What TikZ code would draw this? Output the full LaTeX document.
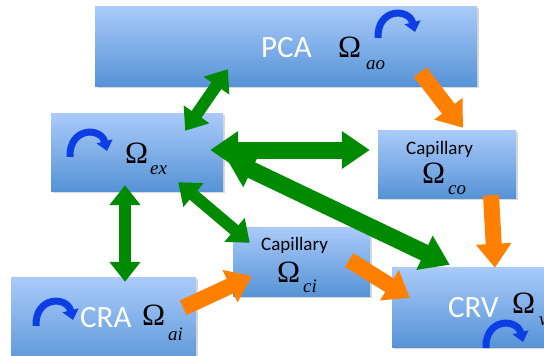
\documentclass[tikz,border=0pt]{standalone}
\usepackage{fontspec}
\setmainfont{Liberation Serif}
\newfontfamily\calib{Carlito}
\usetikzlibrary{arrows.meta,calc,shadows}
\definecolor{boxtop}{RGB}{170,203,250}
\definecolor{boxbot}{RGB}{86,147,214}
\definecolor{grn}{RGB}{0,138,0}
\definecolor{org}{RGB}{255,127,0}
\definecolor{rotblue}{RGB}{12,62,228}
\begin{document}
\begin{tikzpicture}[x=1pt,y=-1pt,
  box/.style={rectangle, inner sep=0pt, top color=boxtop, bottom color=boxbot, draw=none,
    drop shadow={shadow xshift=1.5pt, shadow yshift=-1.5pt, opacity=0.3}},
  lbl/.style={inner sep=0pt, anchor=base west, text=white, font=\calib\fontsize{31}{31}\selectfont},
  captxt/.style={inner sep=0pt, anchor=base west, font=\calib\fontsize{19}{19}\selectfont},
  om/.style={inner sep=0pt, anchor=base west, font=\fontsize{31}{31}\selectfont},
  subtxt/.style={inner sep=0pt, anchor=base west, font=\itshape\fontsize{19}{19}\selectfont},
  bigdbl/.style={draw=grn, line width=17pt, {Triangle[width=36pt,length=28pt]}-{Triangle[width=36pt,length=28pt]}},
  smalldbl/.style={draw=grn, line width=12pt, {Triangle[width=30pt,length=20pt]}-{Triangle[width=30pt,length=20pt]}},
  orng/.style={draw=org, line width=16pt, -{Triangle[width=34pt,length=24pt]}},
  rot/.pic={\draw[rotblue, line width=7pt, -{Triangle[width=16pt,length=10pt]}]
     (-19,0) .. controls (-20,-30) and (12,-30) .. (18,-6);}
]
\useasboundingbox (0,0) rectangle (544,356);
\clip (0,0) rectangle (544,356);

% boxes
\node[box, minimum width=382pt, minimum height=80pt] (pca) at (286,46) {};
\node[box, minimum width=172pt, minimum height=78pt] (ex) at (137,152) {};
\node[box, minimum width=138pt, minimum height=68pt] (co) at (447,164) {};
\node[box, minimum width=137pt, minimum height=69pt] (ci) at (301.5,261.5) {};
\node[box, minimum width=185pt, minimum height=93pt] (cra) at (103.5,323.5) {};
\node[box, minimum width=168pt, minimum height=80pt] (crv) at (476,307) {};

% green double arrows
\draw[smalldbl] ($(ex.north east)+(-38,18)$) -- ($(pca.south west)+(133,-17)$);
\draw[bigdbl] ($(ex.east)+(-13,-2)$) -- ($(co.west)+(-8,-14)$);
\draw[bigdbl] ($(ex.east)+(3,6)$) -- ($(crv.north west)+(58,-2)$);
\draw[smalldbl] ($(ex.south east)+(-45,-9)$) -- ($(ci.north west)+(17,16)$);
\draw[smalldbl] ($(ex.south)+(-12,-6)$) -- ($(cra.north)+(21.5,5)$);

% orange arrows
\draw[orng] ($(pca.south east)+(-57,-14)$) -- ($(co.north)+(16,-2)$);
\draw[orng] ($(co.south)+(44,-3)$) -- ($(crv.north)+(19,1)$);
\draw[orng] ($(cra.north east)+(-13,31)$) -- ($(ci.west)+(19,14.5)$);
\draw[orng] ($(ci.east)+(-21,-1.5)$) -- ($(crv.west)+(18,-9)$);

% rotation icons
\pic at (397,38) {rot};
\pic at (89,157) {rot};
\pic at (55,326) {rot};
\pic at (505,348) {rot};

% texts
\node[lbl] (pcal) at (261,57) {PCA};
\node[om] (pcaom) at (338,57) {Ω};
\node[subtxt] (pcasub) at (366,69) {ao};

\node[om] (exom) at (125,163) {Ω};
\node[subtxt] (exsub) at (150,174) {ex};

\node[captxt] (cocap) at (406,154) {Capillary};
\node[om] (coom) at (422,183) {Ω};
\node[subtxt] (cosub) at (448,194) {co};

\node[captxt] (cicap) at (261,250) {Capillary};
\node[om] (ciom) at (277,282) {Ω};
\node[subtxt] (cisub) at (303,292) {ci};

\node[lbl] (cral) at (80,327) {CRA};
\node[om] (craom) at (142,325) {Ω};
\node[subtxt] (crasub) at (168,340) {ai};

\node[lbl] (crvl) at (448,317) {CRV};
\node[om] (crvom) at (512,313) {Ω};
\node[subtxt] (crvsub) at (539,325) {v};
\end{tikzpicture}
\end{document}
